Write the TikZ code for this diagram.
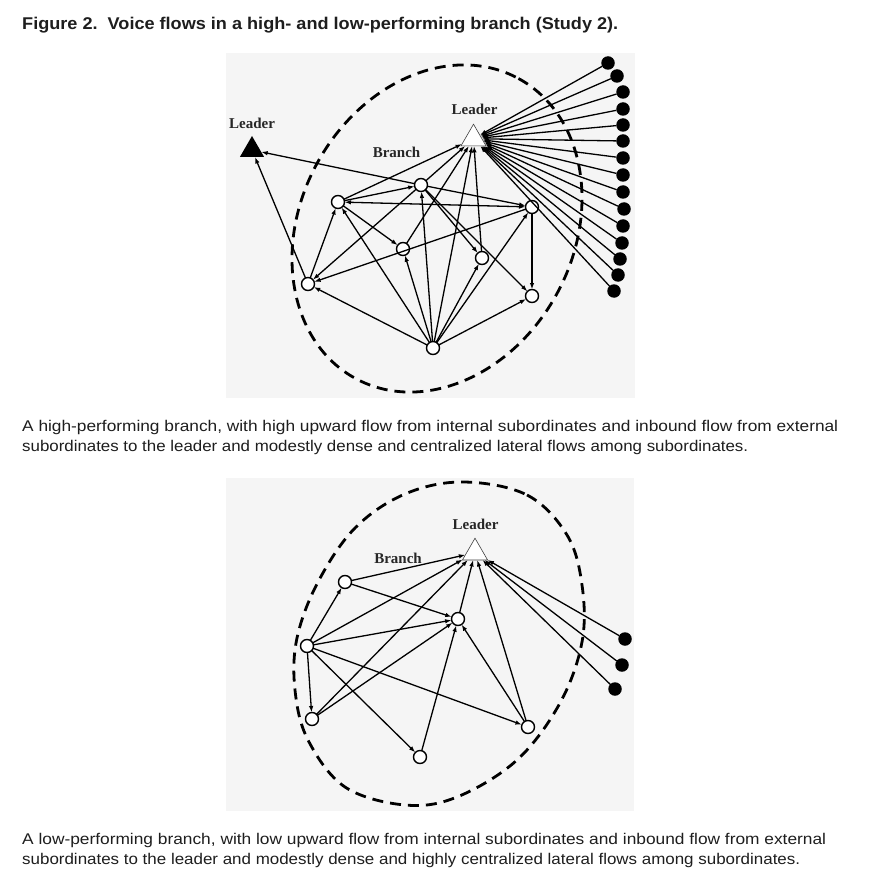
\documentclass[tikz,border=0pt]{standalone}
\usepackage{fontspec}
\usepackage{graphicx}
\usetikzlibrary{arrows.meta,shapes.geometric}
\newfontfamily\capfont{Liberation Sans}
\newfontfamily\labelfont{Liberation Serif}
\definecolor{panel}{RGB}{245,245,245}
\definecolor{ink}{RGB}{30,30,30}
\tikzset{
 sub/.style={circle, draw, fill=white, line width=1.4pt, minimum size=13pt, inner sep=0pt, outer sep=0pt},
 extsub/.style={circle, fill=black, minimum size=13.5pt, inner sep=0pt, outer sep=0pt},
 ldr/.style={regular polygon, regular polygon sides=3, draw=black!75, line width=0.6pt, fill=white, minimum size=29pt, inner sep=0pt, outer sep=0pt},
 xldr/.style={regular polygon, regular polygon sides=3, fill=black, minimum size=28pt, inner sep=0pt, outer sep=0pt},
 flow/.style={-{Latex[length=6.5pt,width=4.5pt]}, line width=1.3pt},
 both/.style={{Latex[length=6.5pt,width=4.5pt]}-{Latex[length=6.5pt,width=4.5pt]}, line width=1.3pt},
 boundary/.style={dash pattern=on 11pt off 7pt, line width=2.8pt},
 lbl/.style={font=\fontsize{15}{15}\selectfont\labelfont\bfseries, text=black!85, anchor=base, inner sep=0pt},
 captxt/.style={font=\fontsize{15.5}{15.5}\selectfont\capfont, text=ink, anchor=base west, inner sep=0pt},
 panelbox/.style={fill=panel, draw=none}
}
\begin{document}
\begin{tikzpicture}[x=1pt,y=-1pt]
\useasboundingbox (0,0) rectangle (874,890);
\fill[white] (0,0) rectangle (874,890);
% title
\node[captxt, font=\fontsize{17}{17}\selectfont\capfont\bfseries] (title) at (22,30) {\resizebox{596pt}{\height}{Figure 2.\ \ Voice flows in a high- and low-performing branch (Study 2).}};
% ================= TOP PANEL =================
\fill[panelbox] (226,53) rectangle (635,398);
\draw[boundary, rotate around={61.5:(437,228.5)}] (437,228.5) ellipse [x radius=170.7, y radius=136.5];
\node[lbl] (tLxlab) at (252,129) {Leader};
\node[lbl] (tLlab) at (474.5,115) {Leader};
\node[lbl] (tBlab) at (396.5,158) {Branch};
\node[ldr] (tL) at (473.5,138.7) {};
\node[xldr] (tX) at (252,150) {};
\node[sub] (A) at (421,185) {};
\node[sub] (B) at (338,202) {};
\node[sub] (C) at (532,207) {};
\node[sub] (D) at (403,249) {};
\node[sub] (E) at (482,258) {};
\node[sub] (F) at (308,284) {};
\node[sub] (G) at (532,296) {};
\node[sub] (H) at (433,348) {};
\foreach \n/\x/\y in {1/608/63, 2/617/76, 3/623/92, 4/623/109, 5/623/125, 6/623/141, 7/623/158, 8/623/175, 9/623/192, 10/624/209, 11/623/226, 12/622/243, 13/620/259, 14/618/275, 15/614/291}{
  \node[extsub] (td\n) at (\x,\y) {};
  \draw[flow] (td\n) -- (tL);
}
\draw[flow] (A) -- (tX);
\draw[flow] (F) -- (tX);
\draw[flow] (B) -- (A);
\draw[both] (B) -- (C);
\draw[flow] (A) -- (C);
\draw[flow] (B) -- (D);
\draw[flow] (A) -- (E);
\draw[flow] (A) -- (G);
\draw[flow] (A) -- (F);
\draw[flow] (F) -- (B);
\draw[flow] (C) -- (F);
\draw[flow] (C) -- (G);
\draw[flow] (B) -- (tL);
\draw[flow] (A) -- (tL);
\draw[flow] (D) -- (tL);
\draw[flow] (H) -- (tL);
\draw[flow] (E) -- (tL);
\foreach \t in {A,B,D,E,C,G,F}{\draw[flow] (H) -- (\t);}
% caption top
\node[captxt] (c1) at (22,431) {\resizebox{816pt}{\height}{A high-performing branch, with high upward flow from internal subordinates and inbound flow from external}};
\node[captxt] (c2) at (22,451) {\resizebox{726pt}{\height}{subordinates to the leader and modestly dense and centralized lateral flows among subordinates.}};
% ================= BOTTOM PANEL =================
\fill[panelbox] (226,478) rectangle (634,811);
\draw[boundary] plot[smooth cycle, tension=0.6] coordinates {(463,482) (527,495) (567,535) (582,585) (582,642) (560,703) (517,760) (457,797) (405,805) (345,787) (308,740) (295,690) (297,638) (318,582) (355,528) (405,494)};
\node[lbl] (bLlab) at (475.5,529) {Leader};
\node[lbl] (bBlab) at (398,563) {Branch};
\node[ldr] (bL) at (475,552.7) {};
\node[sub] (P) at (345,582) {};
\node[sub] (Q) at (458,619) {};
\node[sub] (R) at (307,646) {};
\node[sub] (S) at (312,719) {};
\node[sub] (T) at (528,727) {};
\node[sub] (U) at (420,757) {};
\foreach \n/\x/\y in {1/625/639, 2/622/665, 3/615/689}{
  \node[extsub] (bd\n) at (\x,\y) {};
  \draw[flow] (bd\n) -- (bL);
}
\draw[flow] (P) -- (bL);
\draw[flow] (P) -- (Q);
\draw[flow] (R) -- (P);
\draw[flow] (R) -- (bL);
\draw[flow] (R) -- (Q);
\draw[flow] (R) -- (S);
\draw[flow] (R) -- (U);
\draw[flow] (R) -- (T);
\draw[flow] (S) -- (bL);
\draw[flow] (S) -- (Q);
\draw[flow] (Q) -- (bL);
\draw[flow] (U) -- (Q);
\draw[flow] (T) -- (Q);
\draw[flow] (T) -- (bL);
% caption bottom
\node[captxt] (c3) at (22,844) {\resizebox{804pt}{\height}{A low-performing branch, with low upward flow from internal subordinates and inbound flow from external}};
\node[captxt] (c4) at (22,864) {\resizebox{778pt}{\height}{subordinates to the leader and modestly dense and highly centralized lateral flows among subordinates.}};
\end{tikzpicture}
\end{document}
